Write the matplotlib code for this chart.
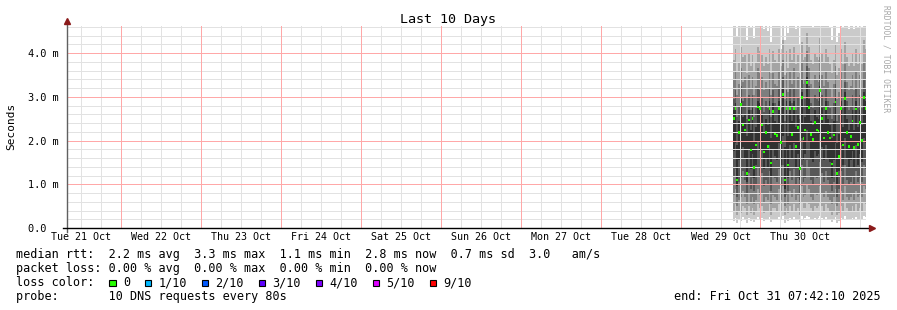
import matplotlib
matplotlib.use('Agg')
import matplotlib.pyplot as plt
import matplotlib.dates as mdates
from matplotlib.patches import Rectangle
import numpy as np
import pandas as pd

# median rtt per column (ms)
median = [2.50, 2.74, 1.10, 2.19, 2.83, 2.36, 2.24, 1.25, 2.47, 1.78,
          2.50, 1.38, 1.90, 2.77, 2.74, 2.36, 1.74, 2.19, 1.86, 2.74,
          1.49, 2.67, 2.15, 2.11, 2.73, 1.96, 3.05, 1.10, 2.74, 1.44,
          2.74, 2.14, 2.74, 1.86, 2.30, 1.36, 2.99, 2.04, 2.24, 3.33,
          2.76, 2.14, 2.03, 2.42, 2.24, 2.22, 3.14, 2.50, 2.06, 2.73,
          2.19, 2.06, 1.46, 2.13, 2.88, 1.25, 1.63, 2.74, 1.90, 2.96,
          2.18, 1.87, 2.09, 2.45, 1.84, 2.72, 1.91, 2.42, 2.00, 2.99,
          2.74]

# sorted pings per column (smoke), p1 = fastest ... p10 = slowest
p1 = [0.15, 0.22, 0.12, 0.18, 0.15, 0.25, 0.20, 0.12, 0.22, 0.15,
      0.20, 0.14, 0.18, 0.25, 0.20, 0.22, 0.15, 0.18, 0.18, 0.25,
      0.14, 0.20, 0.20, 0.18, 0.25, 0.18, 0.28, 0.12, 0.20, 0.15,
      0.22, 0.18, 0.25, 0.18, 0.20, 0.14, 0.28, 0.20, 0.22, 0.28,
      0.25, 0.20, 0.18, 0.22, 0.20, 0.22, 0.28, 0.22, 0.18, 0.25,
      0.20, 0.18, 0.14, 0.18, 0.25, 0.12, 0.15, 0.22, 0.18, 0.28,
      0.20, 0.18, 0.18, 0.22, 0.18, 0.25, 0.18, 0.20, 0.18, 0.28,
      0.25]
p2 = [0.40, 0.55, 0.30, 0.40, 0.35, 0.50, 0.45, 0.30, 0.50, 0.35,
      0.45, 0.30, 0.40, 0.55, 0.45, 0.50, 0.35, 0.40, 0.40, 0.55,
      0.30, 0.45, 0.45, 0.40, 0.55, 0.40, 0.60, 0.30, 0.45, 0.35,
      0.50, 0.40, 0.55, 0.40, 0.45, 0.30, 0.60, 0.45, 0.45, 0.60,
      0.55, 0.45, 0.40, 0.50, 0.45, 0.50, 0.60, 0.50, 0.40, 0.55,
      0.45, 0.40, 0.30, 0.40, 0.55, 0.30, 0.35, 0.50, 0.40, 0.60,
      0.45, 0.40, 0.40, 0.50, 0.40, 0.55, 0.40, 0.45, 0.40, 0.60,
      0.55]
p3 = [0.75, 0.90, 0.50, 0.65, 0.70, 0.85, 0.70, 0.55, 0.80, 0.60,
      0.70, 0.55, 0.65, 0.90, 0.75, 0.80, 0.60, 0.70, 0.65, 0.85,
      0.55, 0.75, 0.70, 0.65, 0.90, 0.65, 0.95, 0.50, 0.75, 0.55,
      0.85, 0.70, 0.90, 0.65, 0.75, 0.55, 0.95, 0.70, 0.75, 1.00,
      0.90, 0.70, 0.65, 0.80, 0.75, 0.80, 0.95, 0.80, 0.70, 0.85,
      0.70, 0.65, 0.55, 0.70, 0.90, 0.50, 0.60, 0.85, 0.65, 0.95,
      0.70, 0.65, 0.70, 0.80, 0.65, 0.85, 0.70, 0.75, 0.70, 0.95,
      0.90]
p4 = [1.20, 1.35, 0.70, 1.05, 1.15, 1.30, 1.10, 0.80, 1.25, 0.90,
      1.15, 0.85, 1.00, 1.40, 1.20, 1.25, 0.95, 1.10, 1.00, 1.30,
      0.85, 1.20, 1.15, 1.05, 1.35, 1.00, 1.45, 0.70, 1.20, 0.85,
      1.30, 1.10, 1.35, 1.00, 1.15, 0.80, 1.45, 1.05, 1.15, 1.55,
      1.40, 1.10, 1.00, 1.20, 1.15, 1.20, 1.50, 1.25, 1.05, 1.30,
      1.10, 1.00, 0.85, 1.05, 1.35, 0.70, 0.90, 1.30, 1.00, 1.45,
      1.10, 1.00, 1.05, 1.20, 1.00, 1.30, 1.05, 1.15, 1.05, 1.45,
      1.35]
p5 = [1.75, 1.95, 0.95, 1.55, 1.80, 1.85, 1.60, 1.05, 1.80, 1.35,
      1.70, 1.15, 1.45, 2.00, 1.75, 1.80, 1.35, 1.60, 1.40, 1.90,
      1.20, 1.80, 1.65, 1.55, 1.95, 1.45, 2.10, 0.90, 1.80, 1.15,
      1.90, 1.60, 1.95, 1.40, 1.70, 1.10, 2.05, 1.55, 1.70, 2.25,
      2.00, 1.60, 1.50, 1.75, 1.65, 1.70, 2.15, 1.85, 1.55, 1.90,
      1.60, 1.50, 1.15, 1.55, 1.95, 1.00, 1.30, 1.90, 1.45, 2.05,
      1.60, 1.40, 1.55, 1.75, 1.40, 1.90, 1.45, 1.70, 1.50, 2.05,
      1.95]
p6 = [2.70, 2.85, 1.90, 2.45, 2.95, 2.55, 2.60, 2.10, 2.70, 2.25,
      2.75, 2.00, 2.30, 2.90, 2.85, 2.60, 2.20, 2.50, 2.35, 2.90,
      2.05, 2.85, 2.45, 2.40, 2.90, 2.35, 3.20, 1.85, 2.90, 2.10,
      2.90, 2.45, 2.90, 2.30, 2.60, 2.00, 3.10, 2.40, 2.55, 3.45,
      2.95, 2.45, 2.35, 2.70, 2.55, 2.50, 3.25, 2.75, 2.40, 2.90,
      2.50, 2.35, 2.05, 2.45, 3.00, 1.95, 2.15, 2.90, 2.30, 3.10,
      2.50, 2.25, 2.40, 2.70, 2.25, 2.90, 2.30, 2.70, 2.35, 3.10,
      2.90]
p7 = [2.95, 3.15, 2.55, 2.80, 3.25, 2.90, 3.00, 2.50, 3.05, 2.70,
      3.05, 2.55, 2.75, 3.20, 3.15, 3.00, 2.65, 2.90, 2.75, 3.20,
      2.55, 3.15, 2.85, 2.80, 3.20, 2.75, 3.45, 2.45, 3.15, 2.60,
      3.20, 2.85, 3.20, 2.70, 3.00, 2.50, 3.40, 2.80, 2.95, 3.70,
      3.25, 2.85, 2.75, 3.05, 2.95, 2.90, 3.50, 3.05, 2.80, 3.20,
      2.90, 2.75, 2.50, 2.85, 3.30, 2.45, 2.60, 3.20, 2.75, 3.35,
      2.90, 2.70, 2.80, 3.05, 2.70, 3.20, 2.75, 3.05, 2.75, 3.40,
      3.20]
p8 = [3.40, 3.60, 3.05, 3.30, 3.65, 3.35, 3.45, 3.00, 3.50, 3.20,
      3.45, 3.05, 3.25, 3.65, 3.55, 3.45, 3.15, 3.35, 3.20, 3.60,
      3.05, 3.55, 3.30, 3.25, 3.60, 3.20, 3.85, 2.95, 3.55, 3.10,
      3.60, 3.30, 3.65, 3.20, 3.45, 3.00, 3.80, 3.30, 3.40, 4.05,
      3.65, 3.30, 3.20, 3.50, 3.40, 3.35, 3.90, 3.50, 3.25, 3.60,
      3.35, 3.20, 3.00, 3.30, 3.70, 2.95, 3.10, 3.60, 3.20, 3.75,
      3.35, 3.15, 3.25, 3.50, 3.15, 3.60, 3.20, 3.50, 3.20, 3.80,
      3.60]
p9 = [3.85, 4.10, 3.60, 3.80, 4.15, 3.90, 3.95, 3.55, 4.00, 3.70,
      3.95, 3.60, 3.80, 4.15, 4.05, 3.95, 3.70, 3.90, 3.75, 4.10,
      3.55, 4.05, 3.85, 3.80, 4.10, 3.70, 4.30, 3.50, 4.05, 3.65,
      4.10, 3.85, 4.15, 3.75, 3.95, 3.55, 4.25, 3.85, 3.90, 4.45,
      4.15, 3.85, 3.75, 4.00, 3.90, 3.85, 4.35, 4.00, 3.80, 4.10,
      3.90, 3.75, 3.55, 3.85, 4.20, 3.50, 3.65, 4.10, 3.75, 4.25,
      3.90, 3.70, 3.80, 4.00, 3.70, 4.10, 3.75, 4.00, 3.75, 4.30,
      4.10]
p10 = [4.80, 5.10, 4.40, 4.90, 5.20, 4.70, 4.95, 4.30, 5.00, 4.60,
       4.90, 4.35, 4.75, 5.20, 5.00, 4.85, 4.55, 4.90, 4.50, 5.10,
       4.25, 5.00, 4.80, 4.65, 5.10, 4.10, 5.40, 4.30, 5.00, 4.45,
       5.10, 4.75, 5.20, 4.55, 4.90, 4.20, 5.30, 4.70, 4.85, 5.50,
       5.20, 4.75, 4.60, 5.00, 4.80, 4.70, 5.40, 4.95, 4.65, 5.10,
       4.80, 4.60, 4.30, 4.75, 5.20, 4.25, 4.45, 5.10, 4.60, 5.30,
       4.85, 4.55, 4.70, 5.00, 4.55, 5.10, 4.60, 4.95, 4.60, 5.30,
       5.10]

first_sample = '2025-10-29 15:40'
sample_step = '34min'
end_time = '2025-10-31 07:42:10'

y_ticks = [0.0, 1.0, 2.0, 3.0, 4.0]
y_ticklabels = ['0.0  ', '1.0 m', '2.0 m', '3.0 m', '4.0 m']
y_minor = [0.2, 0.4, 0.6, 0.8, 1.2, 1.4, 1.6, 1.8, 2.2, 2.4, 2.6, 2.8,
           3.2, 3.4, 3.6, 3.8, 4.2, 4.4, 4.6]

loss_labels = ['0', '1/10', '2/10', '3/10', '4/10', '5/10', '9/10']
loss_colors = ['#26ff00', '#00b8ff', '#0059ff', '#5e00ff', '#7e00ff', '#dd00ff', '#ff0000']
smoke_colors = ['#cacaca', '#a4a4a4', '#7e7e7e', '#585858', '#323232']

plt.rcParams['font.family'] = 'DejaVu Sans Mono'

W, H = 897, 310
fig = plt.figure(figsize=(W / 100, H / 100), dpi=100)
fig.patch.set_facecolor('white')

# plot area in pixels: x 67..866, y 26..228
L, R, T, B = 67, 866, 26, 228
ax = fig.add_axes([L / W, 1 - B / H, (R - L) / W, (B - T) / H])

n = len(median)
for arr in (p1, p2, p3, p4, p5, p6, p7, p8, p9, p10):
    assert len(arr) == n
edges = mdates.date2num(pd.date_range(first_sample, periods=n + 1, freq=sample_step))

pings = [np.array(p) for p in (p1, p2, p3, p4, p5, p6, p7, p8, p9, p10)]
for k in range(5):
    ax.stairs(pings[9 - k], edges, baseline=pings[k], fill=True,
              color=smoke_colors[k], lw=0, zorder=1)

med = np.array(median)
ax.stairs(med + 0.03, edges, baseline=med - 0.03, fill=True,
          color=loss_colors[0], lw=0, zorder=4)

end = pd.Timestamp(end_time)
ax.set_xlim(mdates.date2num(end - pd.Timedelta(days=10)), mdates.date2num(end))
ax.set_ylim(0, 4.62)

# grid: light gray every 6h / 0.2, pink at midnight / 1.0
gray = '#e2e2e2'
red = '#ffa8a8'
ax.xaxis.set_major_locator(mdates.HourLocator(byhour=12))
ax.xaxis.set_major_formatter(mdates.DateFormatter('%a %d %b'))
ax.xaxis.set_minor_locator(mdates.HourLocator(byhour=[6, 12, 18]))
ax.xaxis.remove_overlapping_locs = False
ax.set_yticks(y_ticks)
ax.set_yticklabels(y_ticklabels)
ax.set_yticks(y_minor, minor=True)
ax.grid(False)
ax.grid(which='minor', axis='x', color=gray, lw=0.72)
ax.grid(which='minor', axis='y', color=gray, lw=0.72)
ax.grid(which='major', axis='y', color=red, lw=0.72)
ax.set_axisbelow(False)
for d in pd.date_range('2025-10-22', '2025-10-31', freq='D'):
    ax.axvline(mdates.date2num(d), color=red, lw=0.72, zorder=2.6)

ax.tick_params(which='both', length=0)
ax.tick_params(axis='x', labelsize=7.2, pad=3)
ax.tick_params(axis='y', labelsize=7.4, pad=6)
for s in ax.spines.values():
    s.set_visible(False)

# axes with arrows
ax.plot([0, 0], [-4 / 202, 1 + 3 / 202], transform=ax.transAxes, color='#606060',
        lw=1.0, clip_on=False, zorder=5)
ax.plot([-4 / 799, 1 + 4 / 799], [0, 0], transform=ax.transAxes, color='black',
        lw=1.0, clip_on=False, zorder=5)
ax.plot([0], [1 + 5 / 202], marker='^', ms=4.5, color='#8b1a1a', transform=ax.transAxes,
        clip_on=False, zorder=6)
ax.plot([1 + 6 / 799], [0], marker='>', ms=4.5, color='#8b1a1a', transform=ax.transAxes,
        clip_on=False, zorder=6)

fig.text(448 / W, 1 - 19 / H, 'Last 10 Days', ha='center', va='center', fontsize=9.6)
fig.text(11 / W, 1 - 126 / H, 'Seconds', rotation=90, ha='center', va='center', fontsize=8)
fig.text(886 / W, 1 - 59 / H, 'RRDTOOL / TOBI OETIKER', rotation=-90, ha='center',
         va='center', fontsize=5.8, color='#a8a8a8')

# legend rows
fs = 8.5
cw = 7.12
x0 = 16
fig.text(x0 / W, 1 - 254.5 / H,
         'median rtt:  2.2 ms avg  3.3 ms max  1.1 ms min  2.8 ms now  0.7 ms sd  3.0   am/s',
         va='center', fontsize=fs)
fig.text(x0 / W, 1 - 268.3 / H,
         'packet loss: 0.00 % avg  0.00 % max  0.00 % min  0.00 % now',
         va='center', fontsize=fs)
fig.text(x0 / W, 1 - 282.5 / H, 'loss color:', va='center', fontsize=fs)
pos = 13
for lab, col in zip(loss_labels, loss_colors):
    sx = x0 + pos * cw + 0.7
    fig.patches.append(Rectangle((sx / W, 1 - 286.2 / H), 6.5 / W, 6.5 / H,
                                 transform=fig.transFigure, facecolor=col,
                                 edgecolor='black', lw=0.8))
    fig.text((x0 + (pos + 2) * cw) / W, 1 - 282.5 / H, lab, va='center', fontsize=fs)
    pos += len(lab) + 4
fig.text(x0 / W, 1 - 296.5 / H, 'probe:       10 DNS requests every 80s',
         va='center', fontsize=fs)
fig.text(881 / W, 1 - 296.5 / H, 'end: Fri Oct 31 07:42:10 2025', ha='right',
         va='center', fontsize=fs)

fig.savefig('out.png', dpi=100)
